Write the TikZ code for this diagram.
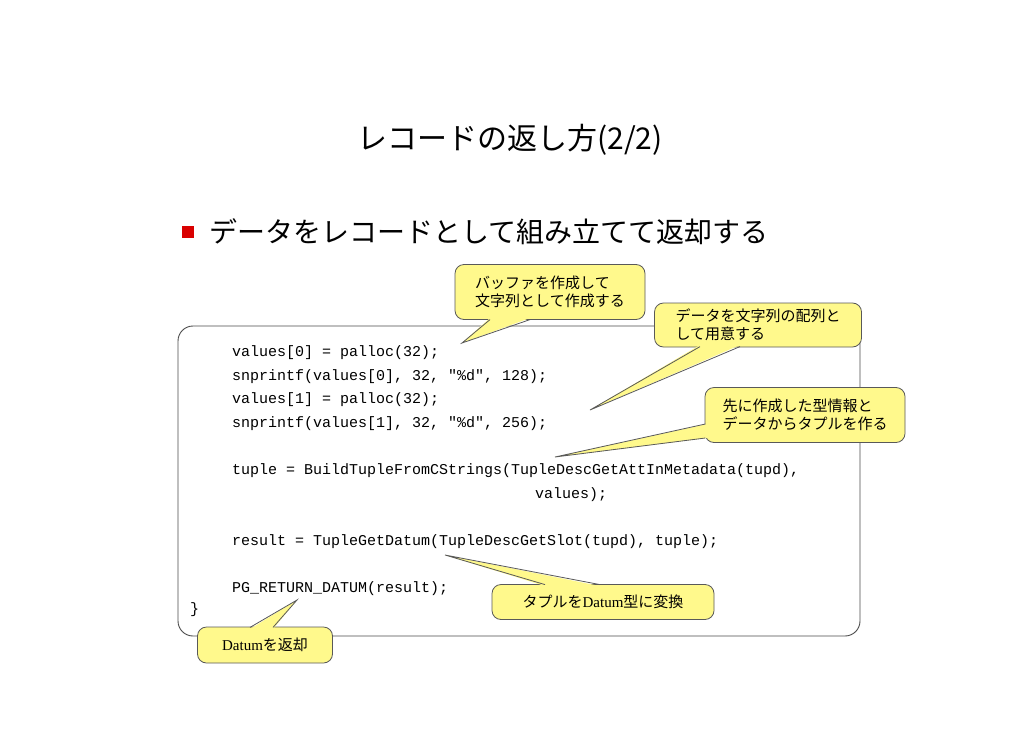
\documentclass[tikz,border=0pt]{standalone}
\usepackage{fontspec}
\setmainfont{Liberation Serif}
\newfontfamily\jp{Noto Sans CJK JP}
\newfontfamily\codef{Liberation Mono}
\begin{document}
\begin{tikzpicture}[x=1pt,y=-1pt,
  code/.style={anchor=west,inner sep=0pt,font=\codef\fontsize{15}{18}\selectfont},
  call/.style={draw=black!65,fill=yellow!45,rounded corners=9pt,line width=0.8pt,inner sep=0pt,align=left,font=\jp\fontsize{15}{18}\selectfont}]
\useasboundingbox (0,0) rectangle (1030,728);
\fill[white] (0,0) rectangle (1030,728);
\node[font=\jp\fontsize{30}{34}\selectfont] (title) at (510,140) {レコードの返し方(2/2)};
\fill[red!85!black] (182,226) rectangle (194,238);
\node[anchor=west,font=\jp\fontsize{28}{32}\selectfont] (bul) at (206,232) {データをレコードとして組み立てて返却する};
\draw[black!70,line width=0.9pt,rounded corners=15pt] (178,326) rectangle (860,636);
\node[code] (l1) at (232,353) {values[0] = palloc(32);};
\node[code] (l2) at (232,377) {snprintf(values[0], 32, "\%d", 128);};
\node[code] (l3) at (232,400) {values[1] = palloc(32);};
\node[code] (l4) at (232,424) {snprintf(values[1], 32, "\%d", 256);};
\node[code] (l5) at (232,471) {tuple = BuildTupleFromCStrings(TupleDescGetAttInMetadata(tupd),};
\node[code] (l6) at (535,495) {values);};
\node[code] (l7) at (232,542) {result = TupleGetDatum(TupleDescGetSlot(tupd), tuple);};
\node[code] (l8) at (232,589) {PG\_RETURN\_DATUM(result);};
\node[code] (l9) at (190,610) {\}};
% callouts
\node[call,minimum width=190,minimum height=55] (c1) at (550,292) {バッファを作成して\\文字列として作成する};
\coordinate (t1) at (462,343);
\node[call,minimum width=207,minimum height=44] (c2) at (758,325) {データを文字列の配列と\\して用意する};
\coordinate (t2) at (590,410);
\node[call,minimum width=200,minimum height=55] (c3) at (805,415) {先に作成した型情報と\\データからタプルを作る};
\coordinate (t3) at (555,457);
\node[call,minimum width=222,minimum height=35] (c4) at (603,602) {タプルを{\rmfamily Datum}型に変換};
\coordinate (t4) at (445,555);
\node[call,minimum width=135,minimum height=36] (c5) at (265,645) {{\rmfamily Datum}を返却};
\coordinate (t5) at (297,600);
\tikzset{ptr/.style={fill=yellow!45},ptl/.style={draw=black!65,line width=0.8pt}}
% pointer 1
\fill[ptr] (490,318) -- (t1) -- (530,318) -- cycle;
\draw[ptl] (490,319.6) -- (t1) -- (530,319.6);
% pointer 2
\fill[ptr] (700,345) -- (t2) -- (740,345) -- cycle;
\draw[ptl] (700,346.6) -- (t2) -- (740,346.6);
% pointer 3
\fill[ptr] (707,424) -- (t3) -- (707,438) -- cycle;
\draw[ptl] (705.4,424) -- (t3) -- (705.4,438);
% pointer 4
\fill[ptr] (545,586) -- (t4) -- (600,586) -- cycle;
\draw[ptl] (545,584.6) -- (t4) -- (600,584.6);
% pointer 5
\fill[ptr] (250,629) -- (t5) -- (273,629) -- cycle;
\draw[ptl] (250,627.4) -- (t5) -- (273,627.4);
\end{tikzpicture}
\end{document}
